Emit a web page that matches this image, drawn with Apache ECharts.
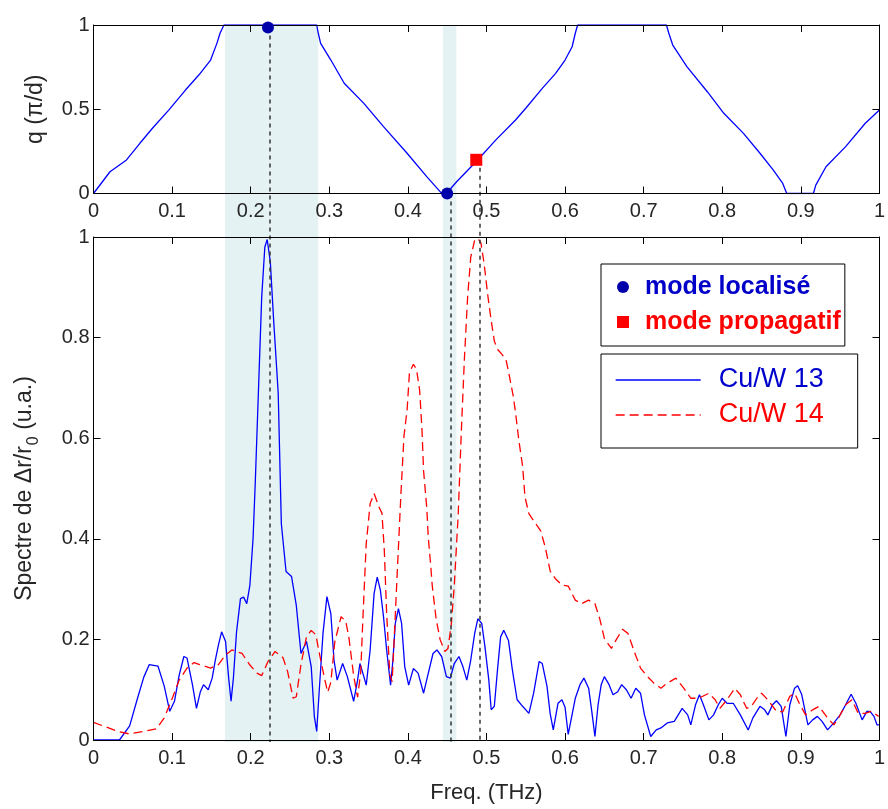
<!DOCTYPE html>
<html><head><meta charset="utf-8">
<script src="https://cdn.jsdelivr.net/npm/echarts@6/dist/echarts.min.js"></script>
<style>html,body{margin:0;padding:0;background:#fff}#c{width:888px;height:809px}</style>
</head><body><div id="c"></div>
<script>
// ---- data ----
const qFreq = [0,0.021,0.042,0.059,0.075,0.096,0.117,0.134,0.149,0.157,0.161,0.166,0.284,0.286,0.289,0.302,0.319,0.344,0.369,0.399,0.424,0.441,0.444,0.449,0.462,0.487,0.512,0.537,0.550,0.571,0.588,0.600,0.609,0.613,0.616,0.729,0.732,0.737,0.755,0.781,0.802,0.827,0.848,0.865,0.877,0.882,0.916,0.919,0.932,0.957,0.982,1.0];
const qVal  = [0,0.129,0.199,0.298,0.387,0.496,0.614,0.703,0.792,0.891,0.951,1,1,0.951,0.891,0.792,0.654,0.535,0.397,0.239,0.100,0.011,0,0,0.070,0.19,0.318,0.436,0.506,0.624,0.713,0.792,0.871,0.951,1,1,0.951,0.881,0.753,0.604,0.476,0.357,0.239,0.139,0.060,0,0,0.050,0.159,0.278,0.417,0.496];

const cu13Freq = [0,0.033,0.046,0.056,0.064,0.071,0.082,0.090,0.097,0.103,0.109,0.115,0.119,0.126,0.131,0.136,0.140,0.146,0.151,0.155,0.159,0.163,0.168,0.172,0.175,0.178,0.182,0.187,0.191,0.195,0.199,0.203,0.206,0.210,0.214,0.218,0.221,0.225,0.229,0.233,0.235,0.239,0.245,0.252,0.258,0.264,0.271,0.277,0.281,0.284,0.287,0.292,0.297,0.302,0.306,0.310,0.317,0.323,0.331,0.336,0.339,0.344,0.347,0.352,0.357,0.361,0.365,0.369,0.373,0.378,0.381,0.384,0.388,0.392,0.396,0.401,0.407,0.413,0.420,0.426,0.432,0.437,0.443,0.449,0.454,0.459,0.465,0.470,0.475,0.480,0.485,0.489,0.494,0.498,0.503,0.506,0.510,0.514,0.518,0.522,0.528,0.533,0.539,0.546,0.554,0.560,0.567,0.571,0.577,0.581,0.585,0.591,0.596,0.600,0.604,0.613,0.619,0.624,0.630,0.634,0.638,0.642,0.646,0.650,0.656,0.661,0.667,0.672,0.678,0.684,0.690,0.696,0.701,0.709,0.716,0.722,0.730,0.739,0.749,0.756,0.760,0.766,0.771,0.776,0.783,0.789,0.795,0.800,0.806,0.814,0.823,0.833,0.839,0.848,0.854,0.858,0.864,0.869,0.875,0.881,0.886,0.892,0.896,0.901,0.909,0.915,0.921,0.927,0.934,0.942,0.950,0.957,0.964,0.970,0.978,0.984,0.988,0.993,0.997,1.0];
const cu13Amp  = [0,0,0.028,0.083,0.125,0.150,0.147,0.107,0.057,0.077,0.129,0.166,0.163,0.109,0.063,0.096,0.110,0.100,0.123,0.159,0.189,0.215,0.196,0.123,0.077,0.123,0.215,0.281,0.284,0.271,0.308,0.400,0.519,0.70,0.88,0.98,0.995,0.95,0.84,0.74,0.69,0.43,0.335,0.325,0.268,0.172,0.196,0.146,0.047,0.017,0.093,0.212,0.285,0.251,0.159,0.119,0.152,0.126,0.077,0.119,0.152,0.126,0.109,0.179,0.291,0.324,0.298,0.245,0.179,0.109,0.159,0.232,0.261,0.232,0.146,0.109,0.142,0.133,0.093,0.133,0.172,0.179,0.166,0.126,0.123,0.152,0.166,0.146,0.119,0.159,0.212,0.241,0.232,0.186,0.119,0.060,0.067,0.139,0.205,0.218,0.198,0.139,0.080,0.067,0.053,0.093,0.156,0.152,0.107,0.053,0.020,0.073,0.080,0.065,0.011,0.083,0.110,0.123,0.103,0.057,0.007,0.070,0.110,0.126,0.110,0.090,0.096,0.110,0.100,0.083,0.103,0.093,0.050,0.007,0.020,0.024,0.034,0.037,0.063,0.050,0.030,0.070,0.090,0.070,0.040,0.050,0.070,0.083,0.073,0.073,0.050,0.020,0.044,0.067,0.060,0.050,0.070,0.078,0.067,0.007,0.070,0.103,0.108,0.091,0.030,0.040,0.047,0.037,0.020,0.034,0.050,0.070,0.091,0.073,0.040,0.057,0.057,0.047,0.030,0.030];

const cu14Freq = [0,0.014,0.031,0.046,0.063,0.080,0.090,0.101,0.109,0.119,0.128,0.135,0.149,0.159,0.168,0.176,0.189,0.199,0.208,0.214,0.222,0.231,0.241,0.247,0.254,0.258,0.264,0.271,0.277,0.283,0.287,0.294,0.298,0.302,0.307,0.315,0.321,0.325,0.331,0.336,0.340,0.343,0.347,0.352,0.357,0.363,0.367,0.370,0.373,0.377,0.380,0.383,0.387,0.391,0.395,0.399,0.402,0.407,0.411,0.415,0.418,0.420,0.424,0.426,0.429,0.431,0.436,0.441,0.447,0.451,0.455,0.459,0.464,0.468,0.472,0.476,0.480,0.485,0.489,0.493,0.497,0.502,0.506,0.510,0.514,0.520,0.525,0.529,0.534,0.537,0.541,0.546,0.549,0.554,0.560,0.569,0.575,0.581,0.588,0.596,0.604,0.613,0.621,0.630,0.638,0.644,0.650,0.659,0.665,0.673,0.680,0.688,0.696,0.705,0.713,0.722,0.730,0.741,0.751,0.760,0.770,0.783,0.791,0.797,0.806,0.816,0.823,0.831,0.837,0.844,0.850,0.858,0.869,0.877,0.886,0.892,0.898,0.906,0.915,0.923,0.934,0.942,0.948,0.957,0.965,0.973,0.982,0.990,0.999];
const cu14Amp  = [0.035,0.027,0.017,0.012,0.017,0.022,0.044,0.086,0.119,0.143,0.154,0.150,0.143,0.150,0.169,0.179,0.172,0.149,0.133,0.128,0.156,0.176,0.164,0.136,0.083,0.086,0.150,0.205,0.218,0.209,0.175,0.122,0.095,0.115,0.195,0.245,0.236,0.203,0.128,0.085,0.135,0.250,0.390,0.470,0.490,0.464,0.451,0.378,0.252,0.130,0.116,0.215,0.350,0.484,0.604,0.656,0.730,0.747,0.737,0.695,0.615,0.535,0.462,0.402,0.348,0.307,0.240,0.200,0.176,0.182,0.226,0.306,0.447,0.613,0.760,0.880,0.960,0.994,0.997,0.988,0.947,0.880,0.834,0.793,0.777,0.766,0.755,0.725,0.684,0.651,0.598,0.544,0.483,0.450,0.436,0.416,0.382,0.336,0.320,0.308,0.306,0.278,0.271,0.278,0.271,0.242,0.202,0.182,0.199,0.220,0.212,0.176,0.143,0.126,0.113,0.103,0.113,0.123,0.103,0.083,0.083,0.093,0.080,0.063,0.080,0.103,0.090,0.063,0.067,0.083,0.093,0.080,0.057,0.056,0.087,0.093,0.073,0.050,0.060,0.067,0.044,0.030,0.044,0.070,0.080,0.053,0.053,0.057,0.047];

const localFreq = [0.222, 0.450];
const localQ    = [0.985, 0];
const propFreq  = [0.487];
const propQ     = [0.2];
const bandStart = [0.1656, 0.440];
const bandEnd   = [0.2831, 0.457];

// ---- layout ----
const FONT = '"Liberation Sans", Arial, sans-serif';
const GL = 93.5, GW = 794;
const TOP = 25, TOP_H = 168.5, BOT = 237, BOT_H = 505;
const OV_H = BOT + BOT_H - TOP;
const ovMin = 1 - OV_H / TOP_H;
const TXT = '#262626';

const zip = (a, b) => a.map((v, i) => [v, b[i]]);

function boxAxis(grid, pos, extra) {
  return Object.assign({
    type: 'value', gridIndex: grid, position: pos, min: 0, max: 1, z: 10,
    axisLine: { show: true, onZero: false, lineStyle: { color: '#000', width: 1 } },
    axisTick: { show: true, inside: true, length: 7, lineStyle: { color: '#000' } },
    axisLabel: { show: false },
    splitLine: { show: false }
  }, extra || {});
}
const lbl = { show: true, color: TXT, fontSize: 20, fontFamily: FONT };

const option = {
  animation: false,
  backgroundColor: '#fff',
  grid: [
    { left: GL, width: GW, top: TOP, height: TOP_H },
    { left: GL, width: GW, top: BOT, height: BOT_H },
    { left: GL, width: GW, top: TOP, height: OV_H }
  ],
  xAxis: [
    boxAxis(0, 'bottom', { interval: 0.1, axisLabel: Object.assign({ margin: 8 }, lbl) }),
    boxAxis(0, 'top', { interval: 0.1 }),
    boxAxis(1, 'bottom', { interval: 0.1, axisLabel: Object.assign({ margin: 8 }, lbl),
      name: 'Freq. (THz)', nameLocation: 'middle', nameGap: 42,
      nameTextStyle: { color: TXT, fontSize: 22, fontFamily: FONT } }),
    boxAxis(1, 'top', { interval: 0.1 }),
    { type: 'value', gridIndex: 2, min: 0, max: 1, show: false }
  ],
  yAxis: [
    boxAxis(0, 'left', { interval: 0.5, axisLabel: Object.assign({ margin: 4 }, lbl),
      name: 'q (π/d)', nameLocation: 'middle', nameGap: 46, nameRotate: 90,
      nameTextStyle: { color: TXT, fontSize: 23, fontFamily: FONT } }),
    boxAxis(0, 'right', { interval: 0.5 }),
    boxAxis(1, 'left', { interval: 0.2, axisLabel: Object.assign({ margin: 4 }, lbl),
      name: '{n|Spectre de Δr/r}{s|0}{n| (u.a.)}', nameLocation: 'middle', nameGap: 55, nameRotate: 90,
      nameTextStyle: { color: TXT, fontSize: 23, fontFamily: FONT,
        rich: {
          n: { color: TXT, fontSize: 23, fontFamily: FONT, lineHeight: 25, verticalAlign: 'top' },
          s: { color: TXT, fontSize: 16, fontFamily: FONT, lineHeight: 16, padding: [12, 0, 0, 1], verticalAlign: 'top' }
        } } }),
    boxAxis(1, 'right', { interval: 0.2 }),
    { type: 'value', gridIndex: 2, min: ovMin, max: 1, show: false }
  ],
  legend: [
    {
      left: 601, top: 264, orient: 'vertical', selectedMode: false, z: 20,
      itemWidth: 12, itemHeight: 12, itemGap: 5, padding: [8, 4, 9, 16],
      borderColor: '#000', borderWidth: 1, backgroundColor: '#fff',
      textStyle: { fontFamily: FONT, fontSize: 25, fontWeight: 'bold', lineHeight: 30, padding: [0, 0, 0, 11] },
      data: [
        { name: 'mode localisé', textStyle: { color: '#0000c8' } },
        { name: 'mode propagatif', textStyle: { color: '#ff0000' } }
      ]
    },
    {
      left: 601, top: 354, orient: 'vertical', selectedMode: false, z: 20,
      itemWidth: 85, itemHeight: 14, itemGap: 5, padding: [11, 34, 18, 14],
      borderColor: '#000', borderWidth: 1, backgroundColor: '#fff',
      textStyle: { fontFamily: FONT, fontSize: 27, lineHeight: 30, padding: [0, 0, 0, 13] },
      data: [
        { name: 'Cu/W 13', textStyle: { color: '#0000cc' }, itemStyle: { opacity: 0 }, lineStyle: { color: '#0000ff', width: 1.3, type: 'solid' } },
        { name: 'Cu/W 14', textStyle: { color: '#ff0000' }, itemStyle: { opacity: 0 }, lineStyle: { color: '#ff0000', width: 1.3, type: [9, 5] } }
      ]
    }
  ],
  series: [
    {
      name: 'bands', type: 'line', xAxisIndex: 4, yAxisIndex: 4, data: [], z: -1, silent: true,
      markArea: {
        silent: true, itemStyle: { color: '#e4f2f3' },
        data: bandStart.map((s, i) => [{ xAxis: s, yAxis: ovMin }, { xAxis: bandEnd[i], yAxis: 1 }])
      }
    },
    {
      name: 'guides', type: 'line', xAxisIndex: 4, yAxisIndex: 4, data: [], z: 3, silent: true,
      markLine: {
        silent: true, symbol: 'none', label: { show: false },
        lineStyle: { color: '#333', width: 1.5, type: [4, 4] },
        data: localFreq.map((f, i) => [{ coord: [f, localQ[i]] }, { coord: [f, ovMin] }])
          .concat(propFreq.map((f, i) => [{ coord: [f, propQ[i]] }, { coord: [f, ovMin] }]))
      }
    },
    {
      name: 'q', type: 'line', xAxisIndex: 0, yAxisIndex: 0, data: zip(qFreq, qVal),
      symbol: 'none', lineStyle: { color: '#0000ff', width: 1.3 }, itemStyle: { color: '#0000ff' }, z: 4
    },
    {
      name: 'Cu/W 13', type: 'line', xAxisIndex: 2, yAxisIndex: 2, data: zip(cu13Freq, cu13Amp),
      symbol: 'none', lineStyle: { color: '#0000ff', width: 1.3 }, itemStyle: { color: '#0000ff' }, z: 4
    },
    {
      name: 'Cu/W 14', type: 'line', xAxisIndex: 2, yAxisIndex: 2, data: zip(cu14Freq, cu14Amp),
      symbol: 'none', lineStyle: { color: '#ff0000', width: 1.3, type: [9, 5] }, itemStyle: { color: '#ff0000' }, z: 4
    },
    {
      name: 'mode localisé', type: 'scatter', xAxisIndex: 0, yAxisIndex: 0, data: zip(localFreq, localQ),
      symbol: 'circle', symbolSize: 12, itemStyle: { color: '#0000aa', opacity: 1 }, clip: false, z: 12
    },
    {
      name: 'mode propagatif', type: 'scatter', xAxisIndex: 0, yAxisIndex: 0, data: zip(propFreq, propQ),
      symbol: 'rect', symbolSize: 12, itemStyle: { color: '#ff0000', opacity: 1 }, clip: false, z: 12
    }
  ]
};

const chart = echarts.init(document.getElementById('c'), null, { renderer: 'canvas' });
chart.setOption(option);
</script>
</body></html>
